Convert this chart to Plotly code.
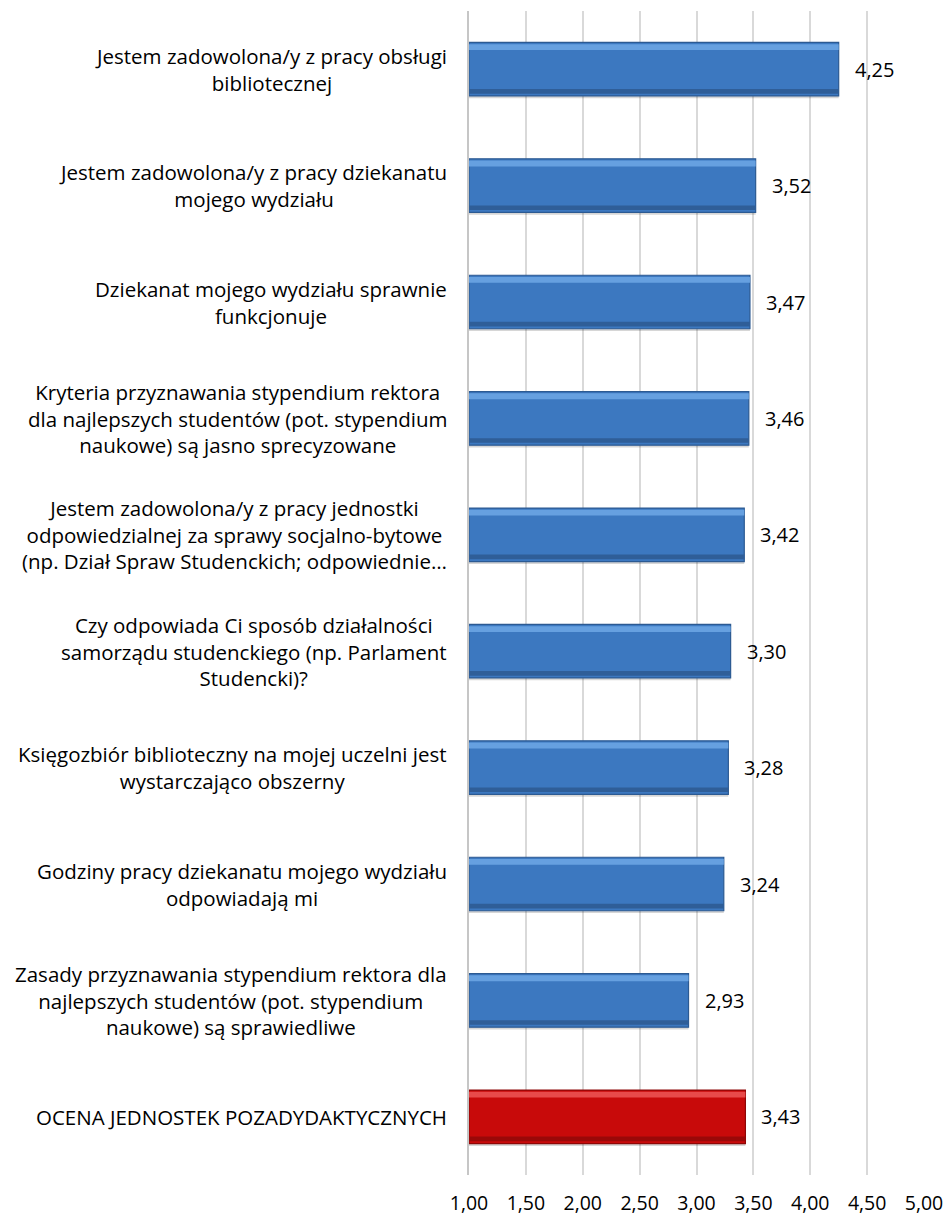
import plotly.graph_objects as go

CATEGORIES = [
    "Jestem zadowolona/y z pracy obsługi<br>bibliotecznej",
    "Jestem zadowolona/y z pracy dziekanatu<br>mojego wydziału",
    "Dziekanat mojego wydziału sprawnie<br>funkcjonuje",
    "Kryteria przyznawania stypendium rektora<br>dla najlepszych studentów (pot. stypendium<br>naukowe) są jasno sprecyzowane",
    "Jestem zadowolona/y z pracy jednostki<br>odpowiedzialnej za sprawy socjalno-bytowe<br>(np. Dział Spraw Studenckich; odpowiednie…",
    "Czy odpowiada Ci sposób działalności<br>samorządu studenckiego (np. Parlament<br>Studencki)?",
    "Księgozbiór biblioteczny na mojej uczelni jest<br>wystarczająco obszerny",
    "Godziny pracy dziekanatu mojego wydziału<br>odpowiadają mi",
    "Zasady przyznawania stypendium rektora dla<br>najlepszych studentów (pot. stypendium<br>naukowe) są sprawiedliwe",
    "OCENA JEDNOSTEK POZADYDAKTYCZNYCH",
]
VALUES = [4.25, 3.52, 3.47, 3.46, 3.42, 3.30, 3.28, 3.24, 2.93, 3.43]
X_TICKS = [1.0, 1.5, 2.0, 2.5, 3.0, 3.5, 4.0, 4.5, 5.0]

COLORS = {
    'bar': '#3C78C0',
    'bar_edge': '#2C5A92',
    'bar_hi': '#66A0E0',
    'bar_lo': '#2F5E98',
    'total': '#C80A0A',
    'total_edge': '#8E0606',
    'total_hi': '#E84A4A',
    'total_lo': '#9A0808',
    'shadow': 'rgba(0,0,0,0.16)',
    'grid': '#D9D9D9',
    'axis': '#C6C6C6',
    'text': '#000000',
}

FONT = "Open Sans, Liberation Sans, Arial, sans-serif"


def fmt(v):
    return f"{v:.2f}".replace('.', ',')


ids = list(range(len(CATEGORIES)))
is_total = [c.startswith("OCENA") for c in CATEGORIES]
base_colors = [COLORS['total'] if t else COLORS['bar'] for t in is_total]
edge_colors = [COLORS['total_edge'] if t else COLORS['bar_edge'] for t in is_total]
hi_colors = [COLORS['total_hi'] if t else COLORS['bar_hi'] for t in is_total]
lo_colors = [COLORS['total_lo'] if t else COLORS['bar_lo'] for t in is_total]
lengths = [v - 1 for v in VALUES]

fig = go.Figure()

# soft drop shadow under each bar
fig.add_trace(go.Bar(
    x=lengths, base=1, y=ids, orientation='h', width=0.46, offset=-0.21,
    marker=dict(color=COLORS['shadow'], line=dict(width=0)),
    hoverinfo='skip',
))

# main bars
fig.add_trace(go.Bar(
    x=lengths, base=1, y=ids, orientation='h', width=0.46,
    marker=dict(color=base_colors, line=dict(color=edge_colors, width=1.2)),
    hoverinfo='skip',
))

# light strip along the top edge (bevel look)
fig.add_trace(go.Bar(
    x=lengths, base=1, y=ids, orientation='h', width=0.05, offset=-0.215,
    marker=dict(color=hi_colors, line=dict(width=0)),
    hoverinfo='skip',
))

# darker strip along the bottom edge
fig.add_trace(go.Bar(
    x=lengths, base=1, y=ids, orientation='h', width=0.04, offset=0.17,
    marker=dict(color=lo_colors, line=dict(width=0)),
    hoverinfo='skip',
))

for i, cat in enumerate(CATEGORIES):
    fig.add_annotation(
        x=0, xref='paper', xanchor='right', xshift=-20,
        y=i, yref='y', yanchor='middle',
        text=cat, showarrow=False, align='center',
        font=dict(family=FONT, size=20.5, color=COLORS['text']),
    )
    fig.add_annotation(
        x=VALUES[i], xref='x', xanchor='left', xshift=14,
        y=i, yref='y', yanchor='middle',
        text=fmt(VALUES[i]), showarrow=False,
        font=dict(family=FONT, size=20, color=COLORS['text']),
    )

fig.update_layout(
    width=946, height=1217,
    barmode='overlay',
    showlegend=False,
    margin=dict(l=469, r=22, t=11, b=42),
    plot_bgcolor='#FFFFFF',
    paper_bgcolor='#FFFFFF',
    font=dict(family=FONT, size=20, color=COLORS['text']),
)
fig.update_xaxes(
    range=[1, 5], tickvals=X_TICKS, ticktext=[fmt(t) for t in X_TICKS],
    showgrid=True, gridcolor=COLORS['grid'], gridwidth=1.5,
    zeroline=False, showline=False, automargin=False,
    tickfont=dict(family=FONT, size=19.5),
    ticks='', ticklabelstandoff=14,
)
fig.update_yaxes(
    range=[len(CATEGORIES) - 0.5, -0.5],
    showticklabels=False, showgrid=False, zeroline=False, automargin=False,
    showline=True, linecolor=COLORS['axis'], linewidth=2,
)

# drop the browser's default body margin so the figure fills the window
fig.write_html(
    "out.html",
    config={'displayModeBar': False},
    post_script="document.body.style.margin='0';document.body.style.overflow='hidden';",
)
